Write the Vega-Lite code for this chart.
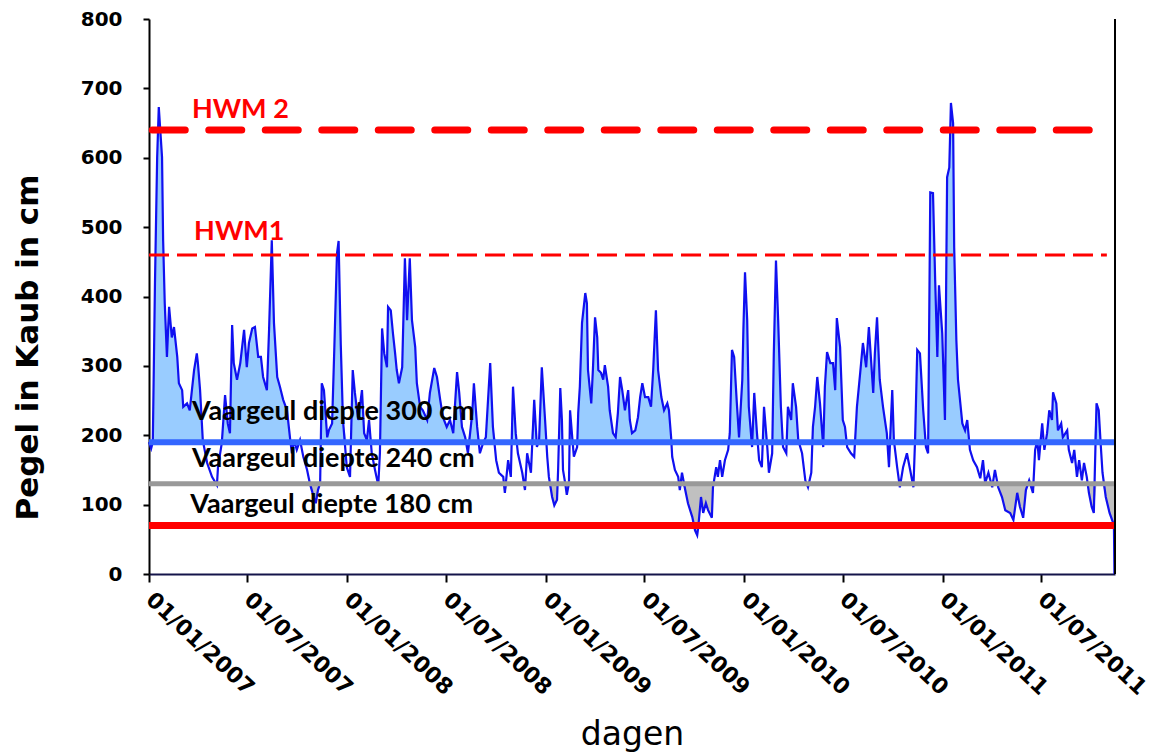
{
  "$schema": "https://vega.github.io/schema/vega-lite/v6.json",
  "width": 966,
  "height": 555,
  "autosize": {"type": "none"},
  "padding": {"left": 149, "top": 19, "right": 38, "bottom": 180},
  "background": "white",
  "config": {"view": {"stroke": null}},
  "data": {"values": [
    {"d":"2007-01-01","v":190},{"d":"2007-01-05","v":181},{"d":"2007-01-08","v":190},{"d":"2007-01-12","v":420},{"d":"2007-01-16","v":600},{"d":"2007-01-19","v":673},{"d":"2007-01-25","v":601},{"d":"2007-01-27","v":481},{"d":"2007-01-30","v":390},{"d":"2007-02-03","v":313},{"d":"2007-02-07","v":385},{"d":"2007-02-12","v":341},{"d":"2007-02-16","v":356},{"d":"2007-02-22","v":313},{"d":"2007-02-25","v":275},{"d":"2007-03-03","v":265},{"d":"2007-03-05","v":241},{"d":"2007-03-12","v":246},{"d":"2007-03-17","v":236},{"d":"2007-03-21","v":265},{"d":"2007-03-25","v":294},{"d":"2007-03-30","v":318},{"d":"2007-04-01","v":304},{"d":"2007-04-05","v":265},{"d":"2007-04-10","v":193},{"d":"2007-04-18","v":160},{"d":"2007-04-27","v":140},{"d":"2007-05-06","v":128},{"d":"2007-05-08","v":154},{"d":"2007-05-15","v":189},{"d":"2007-05-21","v":258},{"d":"2007-05-26","v":217},{"d":"2007-05-30","v":203},{"d":"2007-06-03","v":359},{"d":"2007-06-06","v":304},{"d":"2007-06-12","v":280},{"d":"2007-06-18","v":304},{"d":"2007-06-25","v":352},{"d":"2007-06-30","v":298},{"d":"2007-07-04","v":333},{"d":"2007-07-10","v":354},{"d":"2007-07-15","v":356},{"d":"2007-07-21","v":313},{"d":"2007-07-26","v":313},{"d":"2007-07-30","v":284},{"d":"2007-08-06","v":265},{"d":"2007-08-10","v":352},{"d":"2007-08-15","v":481},{"d":"2007-08-19","v":362},{"d":"2007-08-25","v":284},{"d":"2007-08-30","v":270},{"d":"2007-09-05","v":251},{"d":"2007-09-12","v":236},{"d":"2007-09-18","v":193},{"d":"2007-09-21","v":174},{"d":"2007-09-25","v":193},{"d":"2007-09-30","v":179},{"d":"2007-10-06","v":193},{"d":"2007-10-12","v":169},{"d":"2007-10-19","v":150},{"d":"2007-10-24","v":131},{"d":"2007-10-30","v":114},{"d":"2007-11-04","v":102},{"d":"2007-11-08","v":121},{"d":"2007-11-12","v":131},{"d":"2007-11-15","v":275},{"d":"2007-11-19","v":265},{"d":"2007-11-25","v":197},{"d":"2007-11-28","v":207},{"d":"2007-12-04","v":217},{"d":"2007-12-08","v":323},{"d":"2007-12-13","v":462},{"d":"2007-12-16","v":480},{"d":"2007-12-20","v":330},{"d":"2007-12-24","v":222},{"d":"2007-12-31","v":154},
    {"d":"2008-01-06","v":140},{"d":"2008-01-11","v":294},{"d":"2008-01-15","v":261},{"d":"2008-01-21","v":222},{"d":"2008-01-28","v":265},{"d":"2008-02-01","v":203},{"d":"2008-02-06","v":193},{"d":"2008-02-10","v":222},{"d":"2008-02-15","v":174},{"d":"2008-02-21","v":150},{"d":"2008-02-27","v":128},{"d":"2008-03-01","v":174},{"d":"2008-03-05","v":354},{"d":"2008-03-09","v":318},{"d":"2008-03-14","v":298},{"d":"2008-03-16","v":385},{"d":"2008-03-21","v":380},{"d":"2008-03-25","v":347},{"d":"2008-03-29","v":318},{"d":"2008-04-01","v":294},{"d":"2008-04-05","v":275},{"d":"2008-04-11","v":298},{"d":"2008-04-16","v":455},{"d":"2008-04-20","v":366},{"d":"2008-04-25","v":455},{"d":"2008-04-29","v":366},{"d":"2008-05-05","v":327},{"d":"2008-05-08","v":275},{"d":"2008-05-14","v":241},{"d":"2008-05-19","v":236},{"d":"2008-05-27","v":222},{"d":"2008-06-01","v":261},{"d":"2008-06-09","v":297},{"d":"2008-06-14","v":284},{"d":"2008-06-20","v":251},{"d":"2008-06-25","v":226},{"d":"2008-07-02","v":212},{"d":"2008-07-08","v":222},{"d":"2008-07-14","v":203},{"d":"2008-07-21","v":291},{"d":"2008-07-25","v":261},{"d":"2008-07-30","v":212},{"d":"2008-08-05","v":197},{"d":"2008-08-10","v":174},{"d":"2008-08-18","v":232},{"d":"2008-08-21","v":275},{"d":"2008-08-27","v":212},{"d":"2008-09-01","v":174},{"d":"2008-09-07","v":189},{"d":"2008-09-12","v":197},{"d":"2008-09-20","v":304},{"d":"2008-09-25","v":212},{"d":"2008-10-01","v":164},{"d":"2008-10-06","v":146},{"d":"2008-10-14","v":140},{"d":"2008-10-17","v":117},{"d":"2008-10-23","v":164},{"d":"2008-10-28","v":140},{"d":"2008-11-01","v":270},{"d":"2008-11-06","v":203},{"d":"2008-11-10","v":174},{"d":"2008-11-18","v":146},{"d":"2008-11-23","v":121},{"d":"2008-11-27","v":174},{"d":"2008-12-04","v":146},{"d":"2008-12-10","v":251},{"d":"2008-12-15","v":183},{"d":"2008-12-19","v":193},{"d":"2008-12-24","v":298},{"d":"2008-12-30","v":222},
    {"d":"2009-01-03","v":169},{"d":"2009-01-06","v":140},{"d":"2009-01-12","v":111},{"d":"2009-01-16","v":99},{"d":"2009-01-21","v":107},{"d":"2009-01-23","v":150},{"d":"2009-01-27","v":268},{"d":"2009-01-30","v":222},{"d":"2009-02-01","v":150},{"d":"2009-02-05","v":131},{"d":"2009-02-08","v":114},{"d":"2009-02-12","v":131},{"d":"2009-02-14","v":236},{"d":"2009-02-18","v":197},{"d":"2009-02-21","v":169},{"d":"2009-02-27","v":183},{"d":"2009-03-01","v":232},{"d":"2009-03-04","v":270},{"d":"2009-03-08","v":362},{"d":"2009-03-14","v":405},{"d":"2009-03-17","v":390},{"d":"2009-03-19","v":294},{"d":"2009-03-25","v":246},{"d":"2009-03-28","v":294},{"d":"2009-04-01","v":370},{"d":"2009-04-05","v":341},{"d":"2009-04-07","v":294},{"d":"2009-04-12","v":290},{"d":"2009-04-16","v":280},{"d":"2009-04-19","v":301},{"d":"2009-04-25","v":270},{"d":"2009-04-28","v":236},{"d":"2009-05-04","v":203},{"d":"2009-05-09","v":197},{"d":"2009-05-13","v":232},{"d":"2009-05-17","v":284},{"d":"2009-05-21","v":265},{"d":"2009-05-26","v":236},{"d":"2009-06-01","v":265},{"d":"2009-06-04","v":222},{"d":"2009-06-08","v":203},{"d":"2009-06-14","v":207},{"d":"2009-06-19","v":226},{"d":"2009-06-23","v":255},{"d":"2009-06-27","v":275},{"d":"2009-07-02","v":255},{"d":"2009-07-08","v":255},{"d":"2009-07-13","v":241},{"d":"2009-07-17","v":294},{"d":"2009-07-22","v":380},{"d":"2009-07-26","v":294},{"d":"2009-08-01","v":255},{"d":"2009-08-06","v":236},{"d":"2009-08-12","v":246},{"d":"2009-08-15","v":236},{"d":"2009-08-19","v":197},{"d":"2009-08-21","v":169},{"d":"2009-08-26","v":150},{"d":"2009-09-01","v":140},{"d":"2009-09-04","v":121},{"d":"2009-09-08","v":146},{"d":"2009-09-14","v":121},{"d":"2009-09-19","v":102},{"d":"2009-09-27","v":82},{"d":"2009-10-02","v":63},{"d":"2009-10-06","v":56},{"d":"2009-10-08","v":68},{"d":"2009-10-13","v":111},{"d":"2009-10-17","v":88},{"d":"2009-10-22","v":102},{"d":"2009-10-26","v":92},{"d":"2009-11-02","v":81},{"d":"2009-11-04","v":125},{"d":"2009-11-10","v":154},{"d":"2009-11-13","v":140},{"d":"2009-11-17","v":164},{"d":"2009-11-21","v":140},{"d":"2009-11-26","v":164},{"d":"2009-12-02","v":179},{"d":"2009-12-05","v":203},{"d":"2009-12-09","v":323},{"d":"2009-12-13","v":313},{"d":"2009-12-18","v":246},{"d":"2009-12-22","v":197},{"d":"2009-12-28","v":280},{"d":"2009-12-30","v":352},
    {"d":"2010-01-02","v":435},{"d":"2010-01-06","v":366},{"d":"2010-01-09","v":241},{"d":"2010-01-15","v":183},{"d":"2010-01-19","v":261},{"d":"2010-01-24","v":203},{"d":"2010-01-28","v":164},{"d":"2010-02-02","v":154},{"d":"2010-02-06","v":241},{"d":"2010-02-12","v":183},{"d":"2010-02-15","v":146},{"d":"2010-02-21","v":174},{"d":"2010-02-24","v":318},{"d":"2010-02-28","v":452},{"d":"2010-03-04","v":366},{"d":"2010-03-09","v":241},{"d":"2010-03-13","v":183},{"d":"2010-03-19","v":174},{"d":"2010-03-22","v":241},{"d":"2010-03-28","v":222},{"d":"2010-03-31","v":275},{"d":"2010-04-06","v":241},{"d":"2010-04-10","v":193},{"d":"2010-04-17","v":174},{"d":"2010-04-23","v":135},{"d":"2010-04-28","v":125},{"d":"2010-05-04","v":146},{"d":"2010-05-07","v":212},{"d":"2010-05-11","v":241},{"d":"2010-05-15","v":284},{"d":"2010-05-20","v":246},{"d":"2010-05-26","v":183},{"d":"2010-05-29","v":270},{"d":"2010-06-02","v":320},{"d":"2010-06-08","v":304},{"d":"2010-06-13","v":304},{"d":"2010-06-17","v":265},{"d":"2010-06-20","v":369},{"d":"2010-06-26","v":327},{"d":"2010-07-01","v":222},{"d":"2010-07-05","v":212},{"d":"2010-07-09","v":183},{"d":"2010-07-16","v":174},{"d":"2010-07-22","v":169},{"d":"2010-07-27","v":241},{"d":"2010-08-02","v":290},{"d":"2010-08-07","v":333},{"d":"2010-08-13","v":298},{"d":"2010-08-18","v":356},{"d":"2010-08-26","v":261},{"d":"2010-08-29","v":318},{"d":"2010-09-02","v":370},{"d":"2010-09-07","v":280},{"d":"2010-09-13","v":241},{"d":"2010-09-20","v":203},{"d":"2010-09-24","v":154},{"d":"2010-09-30","v":265},{"d":"2010-10-03","v":193},{"d":"2010-10-09","v":154},{"d":"2010-10-14","v":125},{"d":"2010-10-20","v":154},{"d":"2010-10-27","v":174},{"d":"2010-11-02","v":150},{"d":"2010-11-08","v":125},{"d":"2010-11-11","v":193},{"d":"2010-11-15","v":323},{"d":"2010-11-20","v":318},{"d":"2010-11-26","v":236},{"d":"2010-12-01","v":183},{"d":"2010-12-05","v":174},{"d":"2010-12-09","v":550},{"d":"2010-12-14","v":549},{"d":"2010-12-18","v":424},{"d":"2010-12-22","v":313},{"d":"2010-12-25","v":416},{"d":"2010-12-31","v":347},
    {"d":"2011-01-05","v":222},{"d":"2011-01-09","v":572},{"d":"2011-01-13","v":586},{"d":"2011-01-16","v":679},{"d":"2011-01-20","v":650},{"d":"2011-01-22","v":471},{"d":"2011-01-26","v":337},{"d":"2011-01-29","v":280},{"d":"2011-02-06","v":217},{"d":"2011-02-11","v":207},{"d":"2011-02-15","v":222},{"d":"2011-02-20","v":179},{"d":"2011-02-26","v":164},{"d":"2011-03-05","v":154},{"d":"2011-03-11","v":138},{"d":"2011-03-16","v":164},{"d":"2011-03-20","v":131},{"d":"2011-03-26","v":146},{"d":"2011-04-02","v":125},{"d":"2011-04-07","v":150},{"d":"2011-04-13","v":125},{"d":"2011-04-20","v":111},{"d":"2011-04-26","v":92},{"d":"2011-05-05","v":88},{"d":"2011-05-11","v":78},{"d":"2011-05-18","v":117},{"d":"2011-05-23","v":97},{"d":"2011-05-29","v":81},{"d":"2011-06-03","v":121},{"d":"2011-06-09","v":135},{"d":"2011-06-16","v":117},{"d":"2011-06-20","v":179},{"d":"2011-06-24","v":193},{"d":"2011-06-27","v":164},{"d":"2011-07-03","v":217},{"d":"2011-07-07","v":179},{"d":"2011-07-12","v":203},{"d":"2011-07-16","v":236},{"d":"2011-07-21","v":222},{"d":"2011-07-23","v":262},{"d":"2011-07-29","v":246},{"d":"2011-08-01","v":207},{"d":"2011-08-07","v":217},{"d":"2011-08-10","v":197},{"d":"2011-08-18","v":207},{"d":"2011-08-21","v":179},{"d":"2011-08-27","v":160},{"d":"2011-08-31","v":179},{"d":"2011-09-05","v":140},{"d":"2011-09-09","v":164},{"d":"2011-09-14","v":135},{"d":"2011-09-18","v":160},{"d":"2011-09-23","v":140},{"d":"2011-09-27","v":117},{"d":"2011-10-02","v":97},{"d":"2011-10-06","v":88},{"d":"2011-10-11","v":246},{"d":"2011-10-15","v":236},{"d":"2011-10-19","v":183},{"d":"2011-10-22","v":146},{"d":"2011-10-28","v":111},{"d":"2011-11-04","v":88},{"d":"2011-11-10","v":75},{"d":"2011-11-12","v":73},{"d":"2011-11-13","v":0}
  ]},
  "layer": [
    {
      "mark": {"type": "area", "color": "#99CCFF", "opacity": 1, "interpolate": "linear"},
      "encoding": {
        "x": {"field": "d", "type": "temporal", "title": "dagen",
              "scale": {"type": "utc", "domain": [{"year": 2007, "month": 1, "date": 1, "utc": true}, {"year": 2011, "month": 11, "date": 14, "utc": true}]}},
        "y": {"field": "v", "type": "quantitative", "axis": null,
              "scale": {"domain": [190, 800], "range": [{"expr": "height*610/800"}, 0], "clamp": true, "nice": false, "zero": false}},
        "y2": {"datum": 190}
      }
    },
    {
      "mark": {"type": "area", "color": "#C0C0C0", "opacity": 1, "interpolate": "linear"},
      "encoding": {
        "x": {"field": "d", "type": "temporal", "title": "dagen",
              "scale": {"type": "utc", "domain": [{"year": 2007, "month": 1, "date": 1, "utc": true}, {"year": 2011, "month": 11, "date": 14, "utc": true}]}},
        "y": {"field": "v", "type": "quantitative", "axis": null,
              "scale": {"domain": [0, 130], "range": [{"expr": "height"}, {"expr": "height*670/800"}], "clamp": true, "nice": false, "zero": false}},
        "y2": {"datum": 130}
      }
    },
    {
      "layer": [
        {
          "mark": {"type": "line", "color": "#1010F0", "strokeWidth": 2.2, "interpolate": "linear"},
          "encoding": {
            "x": {"field": "d", "type": "temporal", "title": "dagen",
                  "scale": {"type": "utc", "domain": [{"year": 2007, "month": 1, "date": 1, "utc": true}, {"year": 2011, "month": 11, "date": 14, "utc": true}]},
                  "axis": {
                    "values": [
                      {"year": 2007, "month": 1, "date": 1, "utc": true}, {"year": 2007, "month": 7, "date": 1, "utc": true},
                      {"year": 2008, "month": 1, "date": 1, "utc": true}, {"year": 2008, "month": 7, "date": 1, "utc": true},
                      {"year": 2009, "month": 1, "date": 1, "utc": true}, {"year": 2009, "month": 7, "date": 1, "utc": true},
                      {"year": 2010, "month": 1, "date": 1, "utc": true}, {"year": 2010, "month": 7, "date": 1, "utc": true},
                      {"year": 2011, "month": 1, "date": 1, "utc": true}, {"year": 2011, "month": 7, "date": 1, "utc": true}
                    ],
                    "format": "%d/%m/%Y",
                    "labelAngle": 43, "labelAlign": "left", "labelBaseline": "middle",
                    "labelFont": "DejaVu Sans", "labelFontWeight": "bold", "labelFontSize": 22, "labelColor": "black",
                    "labelPadding": 14, "labelFlush": false, "labelOverlap": false, "labelBound": false,
                    "tickSize": 8, "tickWidth": 2, "tickColor": "black",
                    "domainColor": "#14144a", "domainWidth": 2, "grid": false,
                    "titleFont": "DejaVu Sans", "titleFontSize": 33, "titleFontWeight": "normal", "titleColor": "black",
                    "titleY": 170, "titleBaseline": "alphabetic"
                  }},
            "y": {"field": "v", "type": "quantitative", "title": "Pegel in Kaub in cm",
                  "scale": {"domain": [0, 800], "nice": false},
                  "axis": {
                    "values": [0, 100, 200, 300, 400, 500, 600, 700, 800],
                    "labelFont": "DejaVu Sans", "labelFontWeight": "bold", "labelFontSize": 20, "labelColor": "black",
                    "labelPadding": 21, "tickSize": 6, "tickWidth": 2, "tickColor": "black",
                    "domainColor": "black", "domainWidth": 2, "grid": false,
                    "titleFont": "DejaVu Sans", "titleFontSize": 31, "titleFontWeight": "bold", "titleColor": "black",
                    "titleAngle": 270, "titleAlign": "center", "titleBaseline": "middle", "titleX": -121, "titleY": 328
                  }}
          }
        },
        {
          "data": {"values": [{}]},
          "mark": {"type": "rule", "color": "#FF0000", "strokeWidth": 7, "strokeDash": [33, 23.5], "strokeCap": "round"},
          "encoding": {
            "x": {"datum": {"year": 2007, "month": 1, "date": 7, "utc": true}, "type": "temporal"},
            "x2": {"datum": {"year": 2011, "month": 11, "date": 8, "utc": true}},
            "y": {"datum": 640, "type": "quantitative"}
          }
        },
        {
          "data": {"values": [{}]},
          "mark": {"type": "rule", "color": "#FF0000", "strokeWidth": 3, "strokeDash": [20, 8]},
          "encoding": {
            "x": {"datum": {"year": 2007, "month": 1, "date": 1, "utc": true}, "type": "temporal"},
            "x2": {"datum": {"year": 2011, "month": 10, "date": 30, "utc": true}},
            "y": {"datum": 460, "type": "quantitative"}
          }
        },
        {
          "data": {"values": [{}]},
          "mark": {"type": "rule", "color": "#3366FF", "strokeWidth": 6},
          "encoding": {"y": {"datum": 190, "type": "quantitative"}}
        },
        {
          "data": {"values": [{}]},
          "mark": {"type": "rule", "color": "#999999", "strokeWidth": 5},
          "encoding": {"y": {"datum": 130, "type": "quantitative"}}
        },
        {
          "data": {"values": [{}]},
          "mark": {"type": "rule", "color": "#FF0000", "strokeWidth": 7},
          "encoding": {"y": {"datum": 70, "type": "quantitative"}}
        },
        {
          "data": {"values": [{}]},
          "mark": {"type": "rule", "color": "black", "strokeWidth": 2},
          "encoding": {"x": {"datum": {"year": 2011, "month": 11, "date": 14, "utc": true}, "type": "temporal"}}
        },
        {
          "data": {"values": [{}]},
          "mark": {"type": "text", "text": "HWM 2", "font": "Lato", "fontWeight": "bold", "fontSize": 27, "color": "#FF0000", "align": "left", "baseline": "alphabetic"},
          "encoding": {
            "x": {"datum": {"year": 2007, "month": 3, "date": 21, "utc": true}, "type": "temporal"},
            "y": {"datum": 658, "type": "quantitative"}
          }
        },
        {
          "data": {"values": [{}]},
          "mark": {"type": "text", "text": "HWM1", "font": "Lato", "fontWeight": "bold", "fontSize": 27, "color": "#FF0000", "align": "left", "baseline": "alphabetic"},
          "encoding": {
            "x": {"datum": {"year": 2007, "month": 3, "date": 25, "utc": true}, "type": "temporal"},
            "y": {"datum": 481, "type": "quantitative"}
          }
        },
        {
          "data": {"values": [{}]},
          "mark": {"type": "text", "text": "Vaargeul diepte 300 cm", "font": "Lato", "fontWeight": "bold", "fontSize": 27, "color": "black", "align": "left", "baseline": "alphabetic"},
          "encoding": {
            "x": {"datum": {"year": 2007, "month": 3, "date": 21, "utc": true}, "type": "temporal"},
            "y": {"datum": 222, "type": "quantitative"}
          }
        },
        {
          "data": {"values": [{}]},
          "mark": {"type": "text", "text": "Vaargeul diepte 240 cm", "font": "Lato", "fontWeight": "bold", "fontSize": 27, "color": "black", "align": "left", "baseline": "alphabetic"},
          "encoding": {
            "x": {"datum": {"year": 2007, "month": 3, "date": 21, "utc": true}, "type": "temporal"},
            "y": {"datum": 154, "type": "quantitative"}
          }
        },
        {
          "data": {"values": [{}]},
          "mark": {"type": "text", "text": "Vaargeul diepte 180 cm", "font": "Lato", "fontWeight": "bold", "fontSize": 27, "color": "black", "align": "left", "baseline": "alphabetic"},
          "encoding": {
            "x": {"datum": {"year": 2007, "month": 3, "date": 18, "utc": true}, "type": "temporal"},
            "y": {"datum": 88, "type": "quantitative"}
          }
        }
      ]
    }
  ],
  "resolve": {"scale": {"y": "independent"}}
}
